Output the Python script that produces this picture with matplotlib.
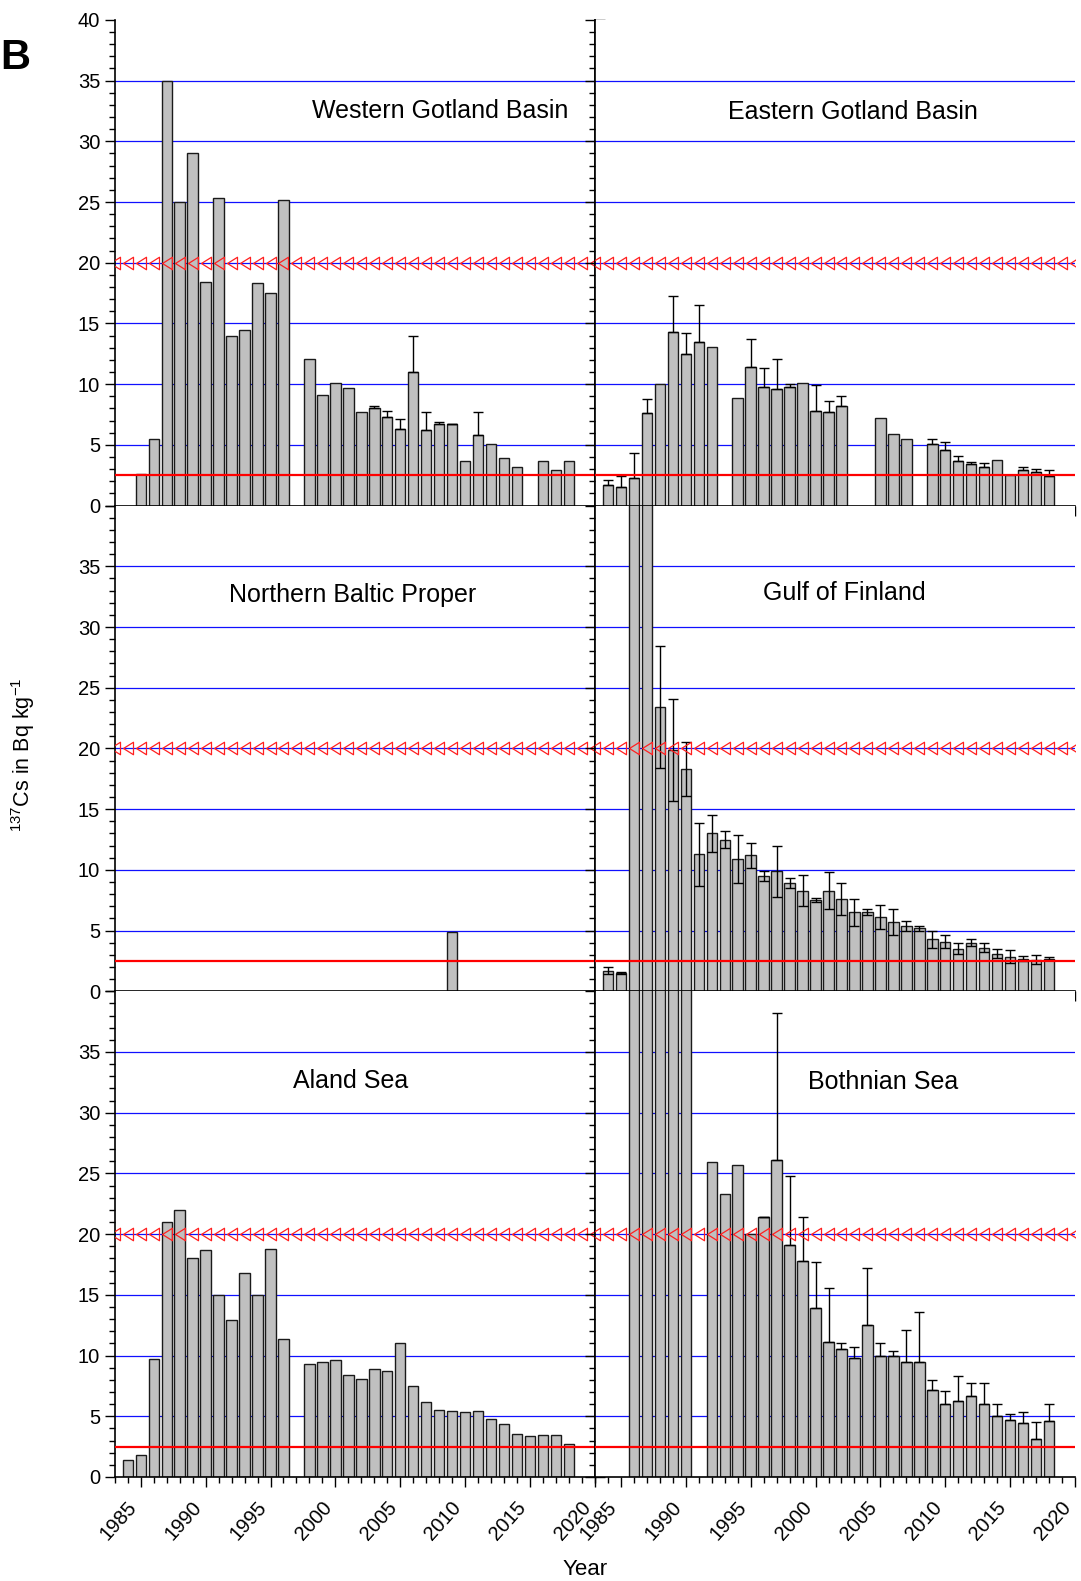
import matplotlib.pyplot as plt
import numpy as np
from matplotlib.ticker import MultipleLocator

plt.rcParams['font.family'] = ['Liberation Sans', 'DejaVu Sans']
plt.rcParams['mathtext.fontset'] = 'custom'
plt.rcParams['mathtext.rm'] = 'Liberation Sans'
plt.rcParams['mathtext.it'] = 'Liberation Sans:italic'

nan = np.nan
years = np.arange(1984, 2019)

# 137Cs in herring muscle, Bq/kg (41 = off scale)
wgb = [nan, 2.6, 5.5, 35.0, 25.0, 29.0, 18.4, 25.3, 14.0, 14.5, 18.3, 17.5, 25.2,
       nan, 12.1, 9.1, 10.1, 9.7, 7.7, 8.0, 7.3, 6.3, 11.0, 6.2, 6.7, 6.7, 3.7,
       5.8, 5.1, 3.9, 3.2, nan, 3.7, 2.9, 3.7]
wgb_err = [0, 0, 0, 0, 0, 0, 0, 0, 0, 0, 0, 0, 0,
           0, 0, 0, 0, 0, 0, 0.2, 0.5, 0.8, 3.0, 1.5, 0.15, 0.05, 0,
           1.9, 0, 0, 0, 0, 0, 0, 0]

egb = [1.7, 1.5, 2.3, 7.6, 10.0, 14.3, 12.5, 13.5, 13.1, nan, 8.9, 11.4, 9.8,
       9.6, 9.8, 10.1, 7.8, 7.7, 8.2, nan, nan, 7.2, 5.9, 5.5, nan, 5.1, 4.6,
       3.65, 3.4, 3.2, 3.75, 2.5, 2.9, 2.8, 2.4]
egb_err = [0.4, 0.9, 2.0, 1.2, 0, 3.0, 1.7, 3.0, 0, 0, 0, 2.3, 1.5,
           2.5, 0.2, 0, 2.1, 0.9, 0.8, 0, 0, 0, 0, 0, 0, 0.4, 0.6,
           0.45, 0.2, 0.3, 0, 0, 0.3, 0.2, 0.5]

nbp = [nan] * 25 + [4.9] + [nan] * 9
nbp_err = [0] * 35

gof = [1.7, 1.5, 41, 41, 23.4, 19.9, 18.3, 11.3, 13.0, 12.5, 10.9, 11.2, 9.5,
       9.9, 8.9, 8.3, 7.5, 8.3, 7.6, 6.5, 6.5, 6.1, 5.7, 5.4, 5.2, 4.3, 4.1,
       3.5, 4.0, 3.6, 3.1, 2.85, 2.7, 2.6, 2.7]
gof_err = [0.3, 0.1, 0, 0, 5.0, 4.2, 2.2, 2.6, 1.5, 0.7, 2.0, 1.05, 0.4,
           2.1, 0.4, 1.25, 0.15, 1.55, 1.3, 1.1, 0.25, 1.0, 1.1, 0.4, 0.2, 0.7, 0.55,
           0.45, 0.3, 0.4, 0.35, 0.55, 0.2, 0.35, 0.1]

aland = [1.4, 1.8, 9.7, 21.0, 22.0, 18.0, 18.7, 15.0, 12.9, 16.8, 15.0, 18.8, 11.4,
         nan, 9.3, 9.5, 9.6, 8.4, 8.1, 8.9, 8.7, 11.0, 7.5, 6.2, 5.5, 5.45, 5.35,
         5.45, 4.8, 4.4, 3.55, 3.4, 3.45, 3.45, 2.75]
aland_err = [0] * 35

both = [nan, nan, 41, 41, 41, 41, 41, nan, 25.9, 23.3, 25.7, 20.0, 21.4,
        26.1, 19.1, 17.8, 13.9, 11.15, 10.5, 9.8, 12.5, 10.0, 10.0, 9.5, 9.5, 7.2, 6.0,
        6.25, 6.7, 6.0, 5.0, 4.7, 4.45, 3.15, 4.6]
both_err = [0, 0, 0, 0, 0, 0, 0, 0, 0, 0, 0, 0, 0.05,
            12.1, 5.7, 3.6, 3.8, 4.45, 0.5, 0.9, 4.7, 1.0, 0.4, 2.6, 4.1, 0.8, 1.1,
            2.05, 1.0, 1.7, 1.0, 0.5, 0.9, 1.35, 1.4]

# name, values, errors, symmetric errors, label position
panels = [
    ("Western Gotland Basin", wgb, wgb_err, False, (2008.1, 32.5)),
    ("Eastern Gotland Basin", egb, egb_err, False, (2002.9, 32.4)),
    ("Northern Baltic Proper", nbp, nbp_err, False, (2001.3, 32.6)),
    ("Gulf of Finland", gof, gof_err, True, (2002.2, 32.8)),
    ("Aland Sea", aland, aland_err, False, (2001.2, 32.6)),
    ("Bothnian Sea", both, both_err, False, (2005.2, 32.5)),
]

target_level = 2.5
limit_level = 20

# narrow left-pointing triangle for the limit line
tri = [(-0.8, 0), (0.8, 1), (0.8, -1), (-0.8, 0)]

fig, axes = plt.subplots(3, 2, figsize=(10.81, 15.81), dpi=100)
fig.subplots_adjust(left=0.1062, right=0.9945, top=0.9874, bottom=0.0658,
                    hspace=0, wspace=0)

for i, (name, vals, err, sym, pos) in enumerate(panels):
    ax = axes[i // 2, i % 2]
    row, col = i // 2, i % 2
    vals = np.array(vals, dtype=float)
    err = np.array(err, dtype=float)

    ax.set_xlim(1983, 2020)
    ax.set_ylim(0, 40)

    for y in range(5, 40, 5):
        ax.axhline(y, color='#1010ff', lw=0.9, zorder=0)

    ax.bar(years, vals, width=0.8, color='#c0c0c0', edgecolor='#1a1a1a',
           linewidth=1.0, zorder=2)

    m = err > 0
    if m.any():
        if sym:
            yerr = err[m]
        else:
            yerr = [np.zeros(m.sum()), err[m]]
        ax.errorbar(years[m], vals[m], yerr=yerr, fmt='none', ecolor='black',
                    elinewidth=1.0, capsize=3.5, capthick=1.0, zorder=3)

    ax.axhline(target_level, color='red', lw=1.6, zorder=4)
    tx = np.arange(1983, 2021)
    ax.plot(tx, np.full(len(tx), limit_level), ls='none', marker=tri, ms=9,
            mfc='none', mec='#ff2020', mew=0.9, zorder=4)

    ax.text(pos[0], pos[1], name, fontsize=18, ha='center', va='center', zorder=5)

    ax.spines['top'].set_visible(False)
    if col == 1:
        ax.spines['right'].set_visible(False)
    for s in ax.spines.values():
        s.set_linewidth(1.2)

    ax.xaxis.set_major_locator(MultipleLocator(5))
    ax.xaxis.set_minor_locator(MultipleLocator(1))
    ax.set_yticks(np.arange(0, 41, 5))
    ax.yaxis.set_minor_locator(MultipleLocator(1))
    ylabels = [str(v) for v in range(0, 41, 5)]
    if row > 0:
        ylabels[-1] = ''
    ax.set_yticklabels(ylabels)

    ax.tick_params(which='both', direction='out', width=1.0, labelsize=14.5,
                   top=False, left=True, right=(col == 0))
    ax.tick_params(which='major', length=7)
    ax.tick_params(which='minor', length=4)
    if col == 1:
        ax.tick_params(labelleft=False)
    if row < 2:
        ax.tick_params(labelbottom=False)
    else:
        ax.set_xticks(np.arange(1985, 2021, 5))
        ax.set_xticklabels([str(v) for v in range(1985, 2021, 5)],
                           rotation=48, ha='right', va='top')
        ax.tick_params(axis='x', pad=8)

fig.text(0.0213, 0.5225, r'$^{137}$Cs in Bq kg$^{-1}$', rotation=90,
         fontsize=15.5, ha='center', va='center')
fig.text(0.541, 0.0075, 'Year', fontsize=16, ha='center', va='center')
fig.text(0.0, 0.963, 'B', fontsize=30, fontweight='bold', ha='left', va='center')

fig.savefig('out.png', dpi=100)
